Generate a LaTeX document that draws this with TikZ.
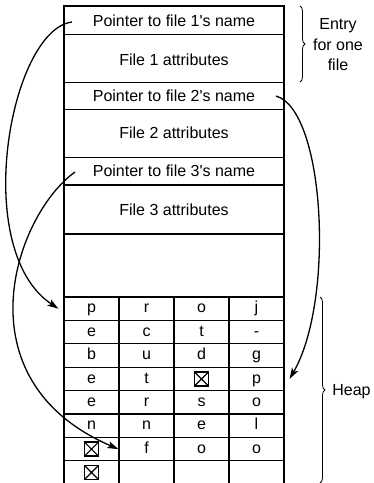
\documentclass[tikz,border=0pt]{standalone}
\usepackage{fontspec}
\setmainfont{Liberation Sans}
\usetikzlibrary{arrows.meta,decorations.pathreplacing}

\tikzset{
  txt/.style={font=\fontsize{16}{20.5}\selectfont, anchor=base, inner sep=0pt},
  cell/.style={font=\fontsize{16}{19}\selectfont, minimum width=55pt, text height=11.6pt, text depth=3.4pt, inner sep=0pt},
  nullmark/.style={draw, line width=1.4pt, minimum size=14pt, inner sep=0pt,
    path picture={\draw[line width=1.2pt] (path picture bounding box.north west) -- (path picture bounding box.south east)
      (path picture bounding box.north east) -- (path picture bounding box.south west);}},
  link/.style={-{Stealth[length=11pt,width=7pt,inset=2.5pt]}, line width=1.3pt},
  grp/.style={decorate, decoration={brace, amplitude=5pt}, line width=0.8pt}
}

\begin{document}
\begin{tikzpicture}[x=1pt, y=-1pt, line width=1.2pt]
			\useasboundingbox (0,0) rectangle (373,483);
			% Vẽ bảng
			\draw (64,483) -- (64,6) -- (284,6) -- (284,483);
			\foreach \y in {34.3,82.7,109.3,157.3,185,234,297}
			\draw (64,\y) -- (284,\y);
			\foreach \i in {1,...,7}
			\draw (64,{297+23.4*\i}) -- (284,{297+23.4*\i});
			\foreach \x in {119,174,229}
			\draw (\x,297) -- (\x,483);
			% Các mục
			\node[txt] (ptr1) at (174,26.5) {Pointer to file 1\textquotesingle s name};
			\node[txt] (attr1) at (174,65) {File 1 attributes};
			\node[txt] (ptr2) at (174,101.7) {Pointer to file 2\textquotesingle s name};
			\node[txt] (attr2) at (174,138.4) {File 2 attributes};
			\node[txt] (ptr3) at (174,176.7) {Pointer to file 3\textquotesingle s name};
			\node[txt] (attr3) at (174,215) {File 3 attributes};
			% Vùng heap
			\foreach \row [count=\r] in {{p,r,o,j},{e,c,t,-},{b,u,d,g},{e,t,,p},{e,r,s,o},{n,n,e,l},{,f,o,o},{,,,}}
			\foreach \ch [count=\c] in \row
			\node[cell] (h-\r-\c) at ({36.5+55*\c},{285.3+23.4*\r}) {\ch};
			\foreach \cell in {h-4-3,h-7-1,h-8-1}
			\node[nullmark] (z-\cell) at (\cell) {};
			% Con trỏ
			\coordinate (s1) at (72,22);
			\coordinate (s2) at (276,96);
			\coordinate (s3) at (75,172);
			\draw[link] (s1) .. controls (10,30) and (-30,250) .. ([xshift=-5pt]h-1-1.west);
			\draw[link] (s2) .. controls (325,110) and (335,300) .. ([xshift=5pt]h-4-4.east);
			\draw[link] (s3) .. controls (15,215) and (-42,380) .. (h-7-2.west);
			% Ngoặc
			\draw[grp] (300,6) -- (300,82);
			\node[font=\fontsize{16}{20.5}\selectfont, align=center, inner sep=0pt] (entry) at (338,45) {Entry\\for one\\file};
			\draw[grp] (320,297) -- (320,483);
			\node[txt] (heap) at (351.5,395) {Heap};
		\end{tikzpicture}
\end{document}
